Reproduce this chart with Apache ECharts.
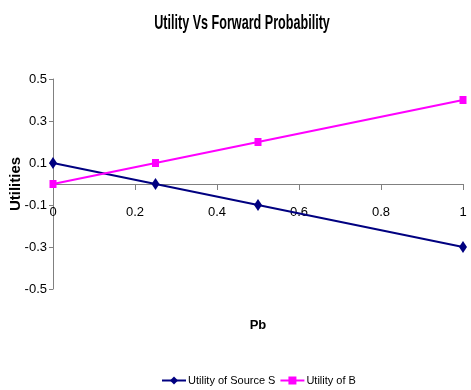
<!DOCTYPE html>
<html><head><meta charset="utf-8">
<script src="https://cdn.jsdelivr.net/npm/echarts@6/dist/echarts.min.js"></script>
<style>html,body{margin:0;padding:0;background:#fff}#c{width:471px;height:390px}</style>
</head><body><div id="c"></div>
<script>
var pb = [0, 0.25, 0.5, 1];
var sourceS = [0.1, 0, -0.1, -0.3];
var utilB = [0, 0.1, 0.2, 0.4];
var yTicks = [-0.5, -0.3, -0.1, 0.1, 0.3, 0.5];
var xTicks = [0, 0.2, 0.4, 0.6, 0.8, 1];
var titleText = 'Utility Vs Forward Probability';
var FONT = '"Liberation Sans", Arial, sans-serif';

var chart = echarts.init(document.getElementById('c'), null, {renderer: 'canvas'});
function pairs(xs, ys){ return xs.map(function(x,i){ return [x, ys[i]]; }); }
chart.setOption({
  animation: false,
  textStyle: {fontFamily: FONT},
  graphic: [{
    type: 'text', x: 242, y: 23, scaleX: 0.6, scaleY: 1,
    style: {text: titleText, fontFamily: FONT, fontSize: 21, fontWeight: 'bold',
      fill: '#000', align: 'center', verticalAlign: 'middle'}
  }],
  grid: {left: 53, right: 8, top: 79, bottom: 101, containLabel: false, outerBoundsMode: 'none'},
  xAxis: {
    type: 'value', min: xTicks[0], max: xTicks[xTicks.length-1], interval: 0.2,
    position: 'bottom', offset: -105,
    name: 'Pb', nameLocation: 'middle', nameGap: 135, nameMoveOverlap: false,
    nameTextStyle: {fontFamily: FONT, fontSize: 13, fontWeight: 'bold', color: '#000'},
    axisLine: {onZero: false, lineStyle: {color: '#808080', width: 1}},
    axisTick: {show: true, length: 6, inside: false, lineStyle: {color: '#808080'}},
    axisLabel: {fontFamily: FONT, fontSize: 13, color: '#000', margin: 22,
      formatter: function(v){ return String(Math.round(v*10)/10); }},
    splitLine: {show: false}
  },
  yAxis: {
    type: 'value', min: yTicks[0], max: yTicks[yTicks.length-1], interval: 0.2,
    name: 'Utilities', nameLocation: 'middle', nameGap: 30, nameRotate: 90, nameMoveOverlap: false,
    nameTextStyle: {fontFamily: FONT, fontSize: 15, fontWeight: 'bold', color: '#000'},
    axisLine: {show: true, lineStyle: {color: '#808080', width: 1}},
    axisTick: {show: true, length: 4, lineStyle: {color: '#808080'}},
    axisLabel: {fontFamily: FONT, fontSize: 13, color: '#000', margin: 6,
      formatter: function(v){ return String(Math.round(v*10)/10); }},
    splitLine: {show: false}
  },
  legend: {
    top: 370, left: 156, itemGap: 4, itemWidth: 24, itemHeight: 10,
    textStyle: {fontFamily: FONT, fontSize: 11, color: '#000', padding: [0, 0, 0, -3]},
    data: ['Utility of Source S', 'Utility of B']
  },
  series: [
    {name: 'Utility of Source S', type: 'line', data: pairs(pb, sourceS),
     symbol: 'diamond', symbolSize: [8, 12], showAllSymbol: true,
     lineStyle: {color: '#000080', width: 2}, itemStyle: {color: '#000080'}},
    {name: 'Utility of B', type: 'line', data: pairs(pb, utilB),
     symbol: 'rect', symbolSize: [7, 8], showAllSymbol: true,
     lineStyle: {color: '#FF00FF', width: 2}, itemStyle: {color: '#FF00FF'}}
  ]
});
</script></body></html>
